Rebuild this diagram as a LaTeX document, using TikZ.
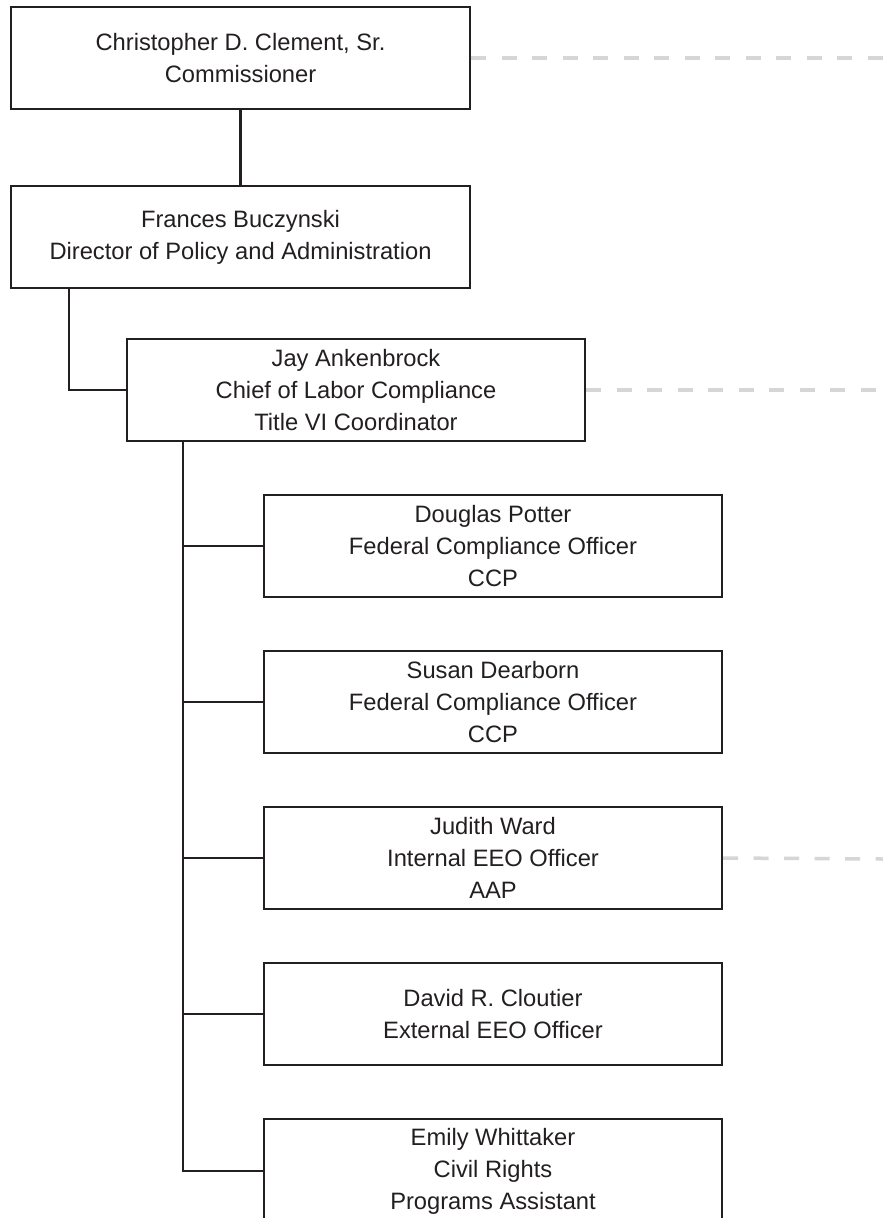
\documentclass[tikz,border=0pt]{standalone}
\usepackage{fontspec}
\setmainfont{Liberation Sans}
\definecolor{ln}{HTML}{231F20}
\definecolor{dshc}{HTML}{D6D6D6}
\begin{document}
\begin{tikzpicture}[x=1pt,y=-1pt,
  box/.style={draw=ln, line width=2.2pt, fill=white, inner sep=0pt, align=center,
    font=\fontsize{23.7}{32}\selectfont, text=ln, minimum height=102pt},
  topbox/.style={box, minimum width=459pt},
  childbox/.style={box, minimum width=458pt},
  conn/.style={draw=ln, line width=2.2pt},
  dshline/.style={draw=dshc, line width=3.5pt, dash pattern=on 15pt off 15.5pt}]
\useasboundingbox (0,0) rectangle (883,1218);
\clip (0,0) rectangle (883,1218);
\fill[white] (0,0) rectangle (883,1218);

\node[topbox] (com) at (240.5,58) {Christopher D. Clement, Sr.\\Commissioner};
\node[topbox] (dir) at (240.5,237) {Frances Buczynski\\Director of Policy and Administration};
\node[childbox] (chief) at (356,390) {Jay Ankenbrock\\Chief of Labor Compliance\\Title VI Coordinator};
\node[childbox] (doug) at (493,546) {Douglas Potter\\Federal Compliance Officer\\CCP};
\node[childbox] (susan) at (493,702) {Susan Dearborn\\Federal Compliance Officer\\CCP};
\node[childbox] (judith) at (493,858) {Judith Ward\\Internal EEO Officer\\AAP};
\node[childbox] (david) at (493,1014) {David R. Cloutier\\External EEO Officer};
\node[childbox, minimum height=104pt] (emily) at (493,1171) {Emily Whittaker\\Civil Rights\\Programs Assistant};

\coordinate (r1) at (883,58);
\coordinate (r2) at (883,390);
\coordinate (r3) at (883,859);
\draw[dshline] (com.east) -- (r1);
\draw[dshline] (chief.east) -- (r2);
\draw[dshline] (judith.east) -- (r3);

\coordinate (dx) at (69,0);
\coordinate (tx) at (183,0);
\draw[conn] (com.south) -- (dir.north);
\draw[conn] (dir.south -| dx) |- (chief.west);
\draw[conn] (chief.south -| tx) |- (emily.west);
\draw[conn] (tx |- doug.west) -- (doug.west);
\draw[conn] (tx |- susan.west) -- (susan.west);
\draw[conn] (tx |- judith.west) -- (judith.west);
\draw[conn] (tx |- david.west) -- (david.west);
\end{tikzpicture}
\end{document}
